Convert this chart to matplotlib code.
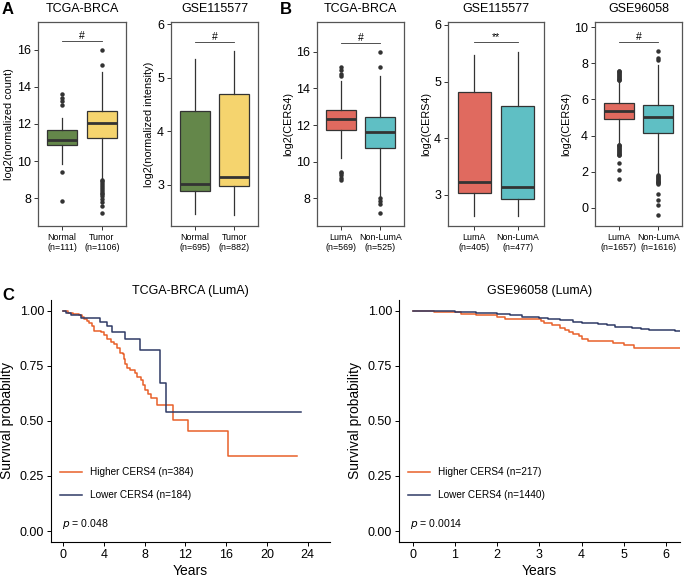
import matplotlib
matplotlib.use("Agg")
import matplotlib.pyplot as plt
from matplotlib.lines import Line2D

plt.rcParams['font.family'] = ['Liberation Sans', 'DejaVu Sans']

# ---------- panel A / B box plot data ----------
a1_labels = ["Normal\n(n=111)", "Tumor\n(n=1106)"]
a1_med = [11.15, 12.05]
a1_q1 = [10.85, 11.25]
a1_q3 = [11.65, 12.7]
a1_lo = [9.85, 9.1]
a1_hi = [12.3, 14.8]
a1_fliers = [[13.6, 13.4, 13.25, 13.05, 9.4, 7.85],
             [16.0, 15.2, 9.0, 8.9, 8.8, 8.7, 8.6, 8.5, 8.4, 8.3, 8.2, 8.1, 7.95, 7.8, 7.6, 7.2]]

a2_labels = ["Normal\n(n=695)", "Tumor\n(n=882)"]
a2_med = [3.02, 3.15]
a2_q1 = [2.88, 2.97]
a2_q3 = [4.38, 4.7]
a2_lo = [2.45, 2.44]
a2_hi = [5.35, 5.5]
a2_fliers = [[], []]

b1_labels = ["LumA\n(n=569)", "Non-LumA\n(n=525)"]
b1_med = [12.35, 11.6]
b1_q1 = [11.75, 10.72]
b1_q3 = [12.82, 12.45]
b1_lo = [10.2, 8.1]
b1_hi = [14.4, 14.7]
b1_fliers = [[15.2, 15.0, 14.8, 14.7, 9.45, 9.35, 9.25, 9.1, 9.0],
             [16.0, 15.2, 8.0, 7.85, 7.7, 7.2]]

b2_labels = ["LumA\n(n=405)", "Non-LumA\n(n=477)"]
b2_med = [3.23, 3.14]
b2_q1 = [3.04, 2.93]
b2_q3 = [4.82, 4.57]
b2_lo = [2.63, 2.63]
b2_hi = [5.47, 5.52]
b2_fliers = [[], []]

b3_labels = ["LumA\n(n=1657)", "Non-LumA\n(n=1616)"]
b3_med = [5.35, 5.02]
b3_q1 = [4.9, 4.12]
b3_q3 = [5.8, 5.68]
b3_lo = [3.55, 1.85]
b3_hi = [7.0, 7.9]
b3_fliers = [[7.05, 7.1, 7.15, 7.2, 7.25, 7.3, 7.35, 7.4, 7.45, 7.5, 7.55, 7.6,
              3.5, 3.45, 3.4, 3.35, 3.3, 3.25, 3.2, 3.15, 3.1, 3.05, 3.0, 2.95, 2.9, 2.5, 2.1, 1.6],
             [8.2, 8.3, 8.7, 1.8, 1.75, 1.7, 1.65, 1.6, 1.55, 1.5, 1.45, 1.4, 1.35, 1.3,
              0.75, 0.45, 0.15, -0.4]]

green, yellow = "#64874A", "#F5D46E"
red, teal = "#E06A5F", "#5FBFC4"

# ---------- panel C survival data ----------
tcga_hi_t = [0, 0.5, 1.0, 1.5, 1.8, 2.0, 2.3, 2.5, 2.8, 3.0, 3.7, 4.0, 4.3, 4.7, 5.0, 5.3, 5.6,
             5.9, 6.0, 6.1, 6.3, 6.6, 7.0, 7.2, 7.6, 7.8, 8.0, 8.3, 8.6, 9.2, 10.75, 12.25, 16.2, 23.0]
tcga_hi_s = [1.0, 0.99, 0.985, 0.98, 0.975, 0.965, 0.955, 0.945, 0.93, 0.91, 0.905, 0.89, 0.875,
             0.86, 0.85, 0.83, 0.81, 0.805, 0.78, 0.76, 0.74, 0.73, 0.72, 0.70, 0.685, 0.665, 0.64,
             0.625, 0.605, 0.575, 0.505, 0.455, 0.34, 0.34]
tcga_lo_t = [0, 0.3, 0.8, 1.7, 3.6, 4.25, 4.75, 6.05, 7.55, 9.5, 10.05, 23.4]
tcga_lo_s = [1.0, 0.99, 0.98, 0.97, 0.95, 0.93, 0.905, 0.875, 0.825, 0.675, 0.54, 0.54]

gse_hi_t = [0, 0.5, 1.15, 1.5, 2.0, 2.2, 3.05, 3.1, 3.3, 3.5, 3.6, 3.7, 3.8, 3.95, 4.0, 4.15,
            4.75, 5.0, 5.25, 6.33]
gse_hi_s = [1.0, 0.995, 0.985, 0.98, 0.975, 0.965, 0.955, 0.945, 0.935, 0.925, 0.915, 0.905,
            0.895, 0.885, 0.875, 0.865, 0.855, 0.845, 0.83, 0.83]
gse_lo_t = [0, 1.0, 1.2, 1.5, 2.0, 2.3, 2.6, 3.0, 3.2, 3.5, 3.8, 4.0, 4.4, 4.6, 4.8, 5.2, 5.4,
            5.6, 6.0, 6.2, 6.33]
gse_lo_s = [1.0, 0.997, 0.995, 0.99, 0.985, 0.98, 0.975, 0.97, 0.965, 0.958, 0.95, 0.945, 0.94,
            0.935, 0.928, 0.925, 0.92, 0.915, 0.912, 0.908, 0.908]

orange, navy = "#E8602A", "#2F3A66"

fig = plt.figure(figsize=(6.85, 5.77), dpi=100)
W, H = 685, 577


def add_ax(x0, x1, y0, y1):
    return fig.add_axes([x0 / W, 1 - y1 / H, (x1 - x0) / W, (y1 - y0) / H])


def box_panel(ax, labels, med, q1, q3, lo, hi, fliers, colors, ylim, yticks, ylabel, title, sig, sig_y):
    stats = []
    for i in range(len(labels)):
        stats.append(dict(med=med[i], q1=q1[i], q3=q3[i], whislo=lo[i], whishi=hi[i], fliers=fliers[i]))
    bp = ax.bxp(stats, positions=[1, 2], widths=0.75, showcaps=False, patch_artist=True,
                boxprops=dict(edgecolor="#333333", linewidth=0.9),
                whiskerprops=dict(color="#333333", linewidth=0.9),
                medianprops=dict(color="#333333", linewidth=2.0),
                flierprops=dict(marker="o", markersize=2.2, markerfacecolor="#333333",
                                markeredgecolor="#333333", linestyle="none"))
    for patch, c in zip(bp["boxes"], colors):
        patch.set_facecolor(c)
    ax.set_xlim(0.4, 2.6)
    ax.set_ylim(*ylim)
    ax.set_yticks(yticks)
    ax.set_xticks([1, 2])
    ax.set_xticklabels(labels, fontsize=6.4, linespacing=1.1)
    ax.tick_params(axis="y", labelsize=9, length=3, width=0.7, colors="#333333", labelcolor="black", pad=2)
    ax.tick_params(axis="x", length=3, width=0.7, colors="#333333", labelcolor="black", pad=2)
    ax.set_ylabel(ylabel, fontsize=7.8, labelpad=2)
    for s in ax.spines.values():
        s.set_color("#555555")
        s.set_linewidth(0.9)
    ax.set_title(title, fontsize=9, pad=7)
    ax.plot([1, 2], [sig_y, sig_y], color="#333333", linewidth=0.6)
    ax.text(1.5, sig_y, sig, ha="center", va="bottom", fontsize=7.5)


ax = add_ax(38, 126, 22, 226)
box_panel(ax, a1_labels, a1_med, a1_q1, a1_q3, a1_lo, a1_hi, a1_fliers, [green, yellow],
          (6.5, 17.5), [8, 10, 12, 14, 16], "log2(normalized count)", "TCGA-BRCA", "#", 16.45)
ax = add_ax(171, 258, 22, 226)
box_panel(ax, a2_labels, a2_med, a2_q1, a2_q3, a2_lo, a2_hi, a2_fliers, [green, yellow],
          (2.23, 6.04), [3, 4, 5, 6], "log2(normalized intensity)", "GSE115577", "#", 5.67)
ax = add_ax(317, 404, 22, 226)
box_panel(ax, b1_labels, b1_med, b1_q1, b1_q3, b1_lo, b1_hi, b1_fliers, [red, teal],
          (6.47, 17.64), [8, 10, 12, 14, 16], "log2(CERS4)", "TCGA-BRCA", "#", 16.48)
ax = add_ax(448, 544, 22, 226)
box_panel(ax, b2_labels, b2_med, b2_q1, b2_q3, b2_lo, b2_hi, b2_fliers, [red, teal],
          (2.45, 6.05), [3, 4, 5, 6], "log2(CERS4)", "GSE115577", "**", 5.69)
ax = add_ax(595, 682, 22, 226)
box_panel(ax, b3_labels, b3_med, b3_q1, b3_q3, b3_lo, b3_hi, b3_fliers, [red, teal],
          (-1.01, 10.29), [0, 2, 4, 6, 8, 10], "log2(CERS4)", "GSE96058", "#", 9.2)


def km_panel(ax, hi_t, hi_s, lo_t, lo_s, hi_lab, lo_lab, xlim, xticks, title, ptext):
    ax.step(hi_t, hi_s, where="post", color=orange, linewidth=1.1)
    ax.step(lo_t, lo_s, where="post", color=navy, linewidth=1.1)
    ax.set_xlim(*xlim)
    ax.set_ylim(-0.05, 1.05)
    ax.set_xticks(xticks)
    ax.set_yticks([0, 0.25, 0.5, 0.75, 1.0])
    ax.set_yticklabels(["0.00", "0.25", "0.50", "0.75", "1.00"])
    for s in ["top", "right"]:
        ax.spines[s].set_visible(False)
    for s in ["left", "bottom"]:
        ax.spines[s].set_linewidth(0.8)
    ax.tick_params(labelsize=9, length=3, width=0.7, pad=2)
    ax.set_xlabel("Years", fontsize=10, labelpad=2)
    ax.set_ylabel("Survival probability", fontsize=10, labelpad=4)
    ax.set_title(title, fontsize=9, pad=4)
    handles = [Line2D([], [], color=orange, linewidth=1.1), Line2D([], [], color=navy, linewidth=1.1)]
    ax.legend(handles, [hi_lab, lo_lab], loc="lower left", bbox_to_anchor=(0.0, 0.135),
              frameon=False, fontsize=7.2, handlelength=2.2, labelspacing=1.3, handletextpad=0.8)
    ax.text(0.04, 0.075, "$p$ = " + ptext, transform=ax.transAxes, fontsize=7.6, va="center")


ax = add_ax(51, 330, 300, 542)
km_panel(ax, tcga_hi_t, tcga_hi_s, tcga_lo_t, tcga_lo_s, "Higher CERS4 (n=384)", "Lower CERS4 (n=184)",
         (-1.21, 26.2), [0, 4, 8, 12, 16, 20, 24], "TCGA-BRCA (LumA)", "0.048")
ax = add_ax(399, 680, 300, 542)
km_panel(ax, gse_hi_t, gse_hi_s, gse_lo_t, gse_lo_s, "Higher CERS4 (n=217)", "Lower CERS4 (n=1440)",
         (-0.32, 6.33), [0, 1, 2, 3, 4, 5, 6], "GSE96058 (LumA)", "0.0014")

fig.text(2 / W, 1 - 9 / H, "A", fontsize=12, fontweight="bold", va="center")
fig.text(280 / W, 1 - 9 / H, "B", fontsize=12, fontweight="bold", va="center")
fig.text(2 / W, 1 - 296 / H, "C", fontsize=12, fontweight="bold", va="center")

fig.savefig("out.png", dpi=100)
